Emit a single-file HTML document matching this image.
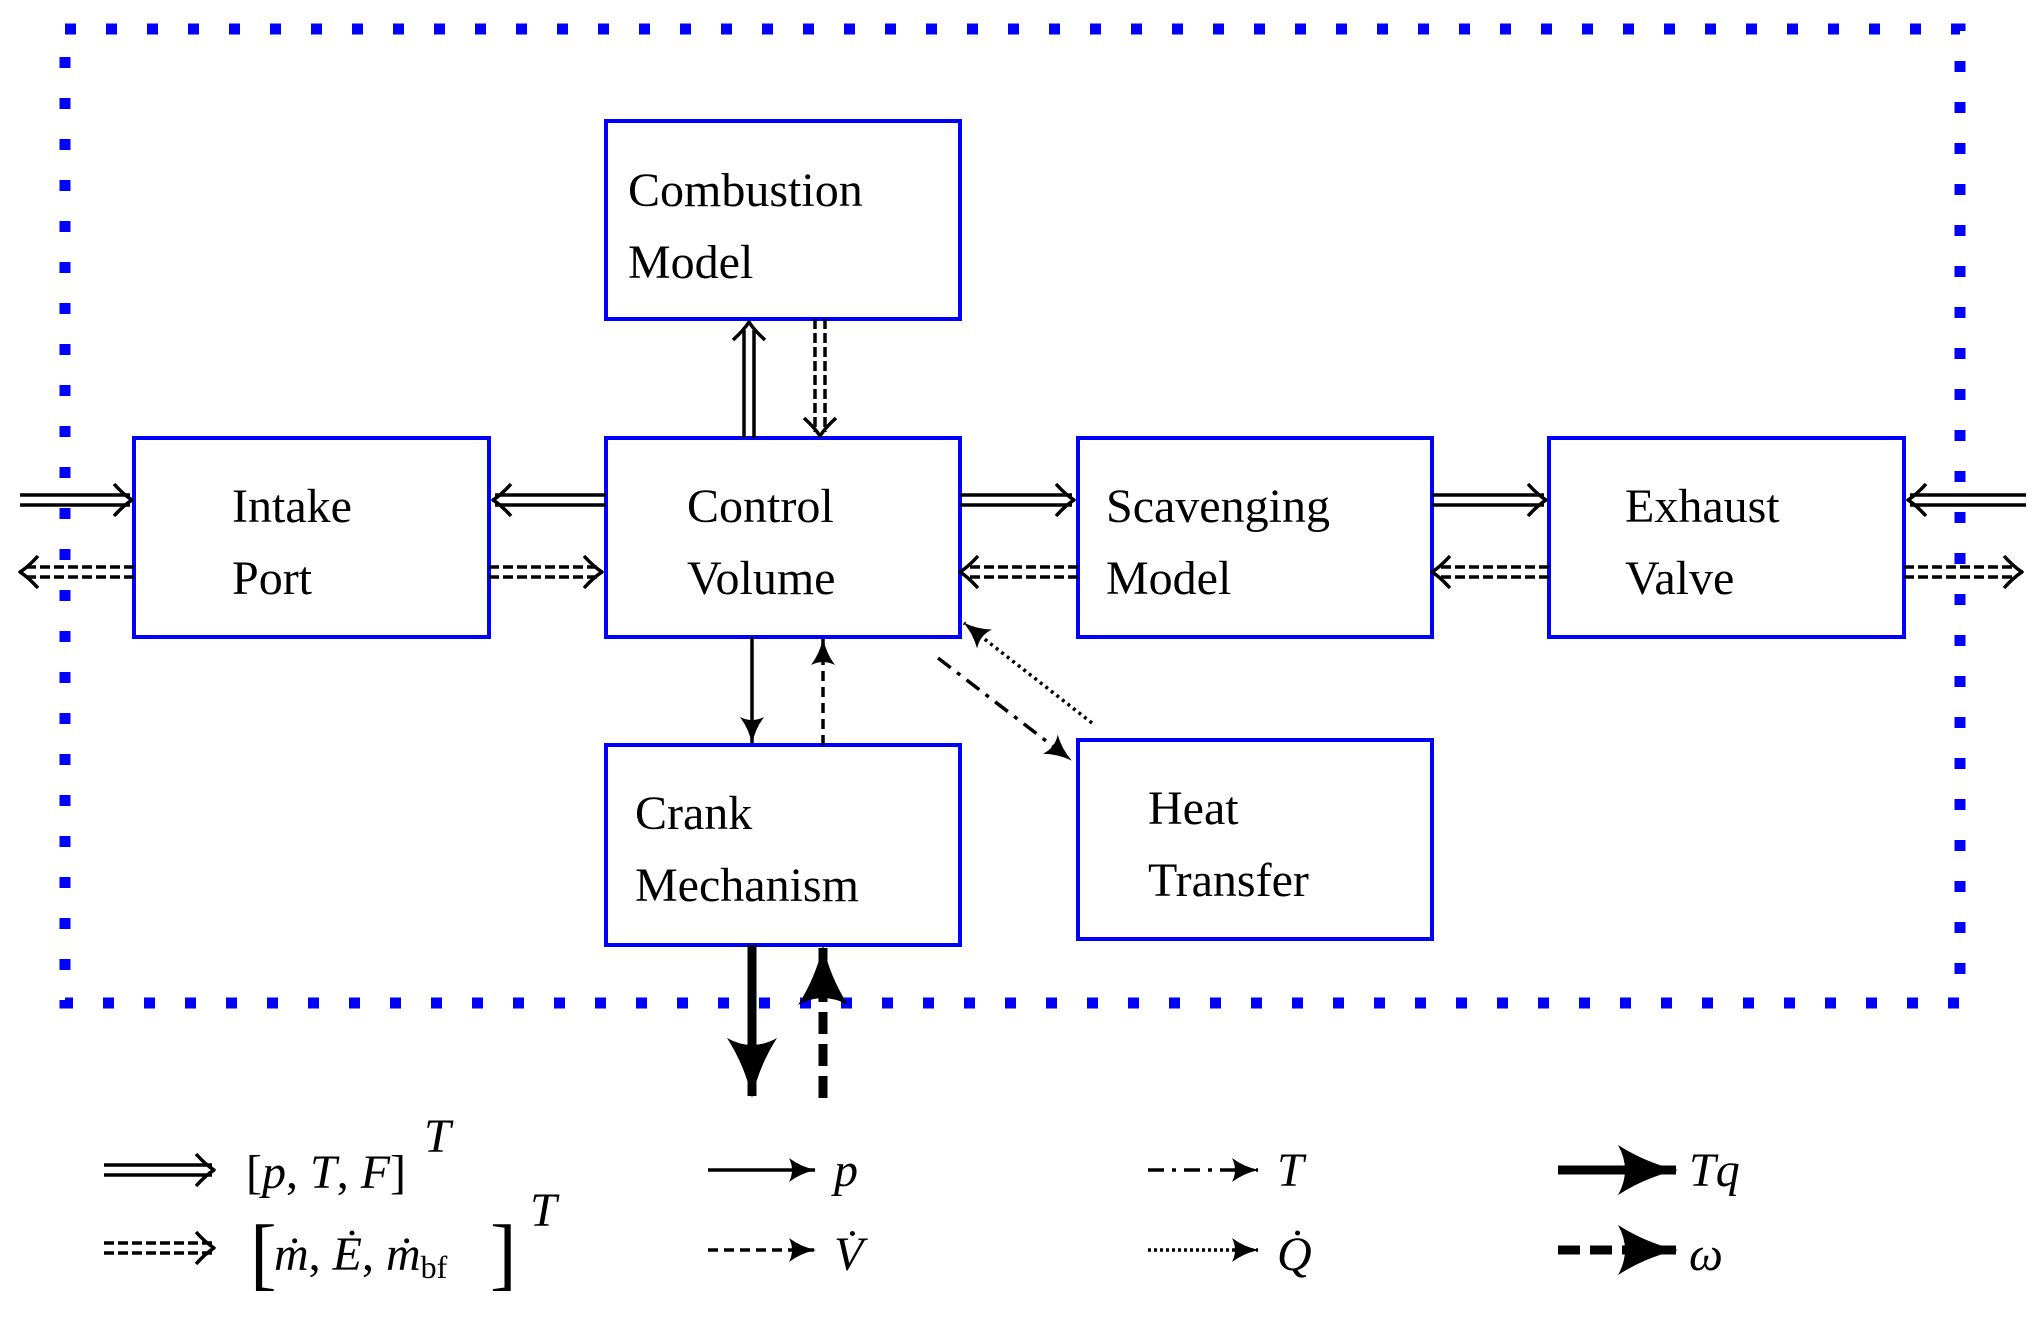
<!DOCTYPE html>
<html><head><meta charset="utf-8"><style>
html,body{margin:0;padding:0;background:#fff;}
svg{display:block;}
text{font-family:"Liberation Serif",serif;fill:#000;}
.lbl{font-size:48px;}
.m{font-style:italic;font-size:48px;}
</style></head><body>
<svg width="2037" height="1318" viewBox="0 0 2037 1318" xmlns="http://www.w3.org/2000/svg">
<defs>
<marker id="sh" viewBox="0 0 28 24" refX="26" refY="12" markerWidth="28" markerHeight="24" markerUnits="userSpaceOnUse" orient="auto">
<path d="M0,0 Q12,9 27,12 Q12,15 0,24 Q6,12 0,0Z" fill="#000"/></marker>
<marker id="big" viewBox="0 0 60 50" refX="58" refY="25" markerWidth="60" markerHeight="50" markerUnits="userSpaceOnUse" orient="auto">
<path d="M0,0 Q28,18 60,25 Q28,32 0,50 Q14,25 0,0Z" fill="#000"/></marker>
</defs>
<rect x="65" y="29" width="1895" height="974" fill="none" stroke="#0000ff" stroke-width="11" stroke-dasharray="11,30"/>
<g fill="none" stroke="#0000ff" stroke-width="4">
<rect x="606" y="121" width="354" height="198"/>
<rect x="134" y="438" width="355" height="199"/>
<rect x="606" y="438" width="354" height="199"/>
<rect x="1078" y="438" width="354" height="199"/>
<rect x="1549" y="438" width="355" height="199"/>
<rect x="606" y="745" width="354" height="200"/>
<rect x="1078" y="740" width="354" height="199"/>
</g>
<g class="lbl">
<text x="628" y="206">Combustion</text><text x="628" y="278">Model</text>
<text x="232" y="522">Intake</text><text x="232" y="594">Port</text>
<text x="687" y="522">Control</text><text x="687" y="594">Volume</text>
<text x="1106" y="522">Scavenging</text><text x="1106" y="594">Model</text>
<text x="1625" y="522">Exhaust</text><text x="1625" y="594">Valve</text>
<text x="635" y="829">Crank</text><text x="635" y="901">Mechanism</text>
<text x="1148" y="824">Heat</text><text x="1148" y="896">Transfer</text>
</g>
<g stroke="#000" stroke-width="3.5" fill="none" stroke-linecap="butt" stroke-linejoin="round">
<path d="M20,495H130M20,505H130"/><path d="M114,484Q124,495 132,500Q124,505 114,516"/>
<path d="M606,495H495M606,505H495"/><path d="M511,484Q501,495 493,500Q501,505 511,516"/>
<path d="M960,495H1072M960,505H1072"/><path d="M1056,484Q1066,495 1074,500Q1066,505 1056,516"/>
<path d="M1432,495H1544M1432,505H1544"/><path d="M1528,484Q1538,495 1546,500Q1538,505 1528,516"/>
<path d="M2026,495H1910M2026,505H1910"/><path d="M1926,484Q1916,495 1908,500Q1916,505 1926,516"/>
<g stroke-dasharray="10,4">
<path d="M134,567H26M134,577H26"/>
<path d="M489,567H600M489,577H600"/>
<path d="M1078,567H966M1078,577H966"/>
<path d="M1549,567H1438M1549,577H1438"/>
<path d="M1904,567H2016M1904,577H2016"/>
<path d="M815,319V432M825,319V432"/>
</g>
<path d="M38,556Q28,567 20,572Q28,577 38,588"/>
<path d="M584,556Q594,567 602,572Q594,577 584,588"/>
<path d="M978,556Q968,567 960,572Q968,577 978,588"/>
<path d="M1450,556Q1440,567 1432,572Q1440,577 1450,588"/>
<path d="M2004,556Q2014,567 2022,572Q2014,577 2004,588"/>
<path d="M804,418Q815,428 820,436Q825,428 836,418"/>
<path d="M744,438V330M754,438V330"/><path d="M733,340Q744,330 749,322Q754,330 765,340"/>
<path d="M752,637V743" marker-end="url(#sh)"/>
<path d="M823,745V639" stroke-dasharray="10,6" marker-end="url(#sh)"/>
<path d="M938,658L1071,760" stroke-dasharray="16,8,4,8" marker-end="url(#sh)"/>
<path d="M1092,723L964,623" stroke-dasharray="3,4" marker-end="url(#sh)"/>
<path d="M752,945V1096" stroke-width="9" marker-end="url(#big)"/>
<path d="M823,1098V947" stroke-width="9" stroke-dasharray="22,10" marker-end="url(#big)"/>
<path d="M104,1165H212M104,1175H212"/><path d="M196,1154Q206,1165 214,1170Q206,1175 196,1186"/>
<path d="M104,1243H212M104,1253H212" stroke-dasharray="10,4"/><path d="M196,1232Q206,1243 214,1248Q206,1253 196,1264"/>
<path d="M708,1170H815" marker-end="url(#sh)"/>
<path d="M708,1250H815" stroke-dasharray="10,6" marker-end="url(#sh)"/>
<path d="M1148,1170H1258" stroke-dasharray="16,8,4,8" marker-end="url(#sh)"/>
<path d="M1148,1250H1258" stroke-dasharray="3,3" marker-end="url(#sh)"/>
<path d="M1558,1170H1676" stroke-width="9" marker-end="url(#big)"/>
<path d="M1558,1250H1676" stroke-width="9" stroke-dasharray="22,10" marker-end="url(#big)"/>
</g>
<text x="246" y="1188" class="lbl" font-size="50">[<tspan font-style="italic">p</tspan>, <tspan font-style="italic">T</tspan>, <tspan font-style="italic">F</tspan>]</text>
<text x="424" y="1152" class="m" font-size="34">T</text>
<text x="250" y="1280" font-size="80" font-weight="100">[</text>
<text x="274" y="1270" class="lbl" font-size="50"><tspan font-style="italic">ṁ</tspan>, <tspan font-style="italic">Ė</tspan>, <tspan font-style="italic">ṁ</tspan><tspan font-size="32" dy="8">bf</tspan></text>
<text x="490" y="1280" font-size="80" font-weight="100">]</text>
<text x="530" y="1226" class="m" font-size="34">T</text>
<text x="834" y="1186" class="m">p</text>
<text x="834" y="1270" class="m">V̇</text>
<text x="1277" y="1186" class="m">T</text>
<text x="1277" y="1270" class="m">Q̇</text>
<text x="1689" y="1186" class="m">Tq</text>
<text x="1689" y="1270" class="m">ω</text>
</svg>
</body></html>
